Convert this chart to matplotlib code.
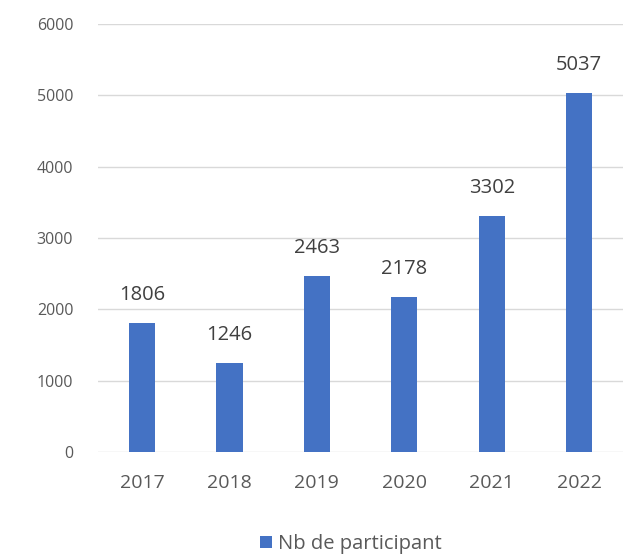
import matplotlib.pyplot as plt

years = ['2017', '2018', '2019', '2020', '2021', '2022']
participants = [1806, 1246, 2463, 2178, 3302, 5037]

plt.rcParams['font.family'] = ['Open Sans', 'DejaVu Sans']

fig = plt.figure(figsize=(6.26, 5.6), dpi=100)
ax = fig.add_axes([0.157, 0.193, 0.838, 0.764])

bars = ax.bar(years, participants, width=0.3, color='#4472C4', label='Nb de participant', zorder=3)
ax.bar_label(bars, padding=13, fontsize=14.5, color='#404040')

ax.set_ylim(0, 6000)
ax.set_xlim(-0.5, 5.5)
ax.set_yticks(range(0, 6001, 1000))
ax.grid(axis='y', color='#D9D9D9', linewidth=1, zorder=0)
for s in ax.spines.values():
    s.set_visible(False)
ax.tick_params(axis='both', length=0, colors='#595959')
ax.tick_params(axis='y', labelsize=11.5, pad=18)
ax.tick_params(axis='x', labelsize=14, pad=16)

fig.legend(loc='lower center', bbox_to_anchor=(0.56, -0.022), frameon=False,
           fontsize=14.5, labelcolor='#595959', handlelength=0.6, handleheight=0.6,
           handletextpad=0.3)

fig.savefig('out.png', dpi=100)
